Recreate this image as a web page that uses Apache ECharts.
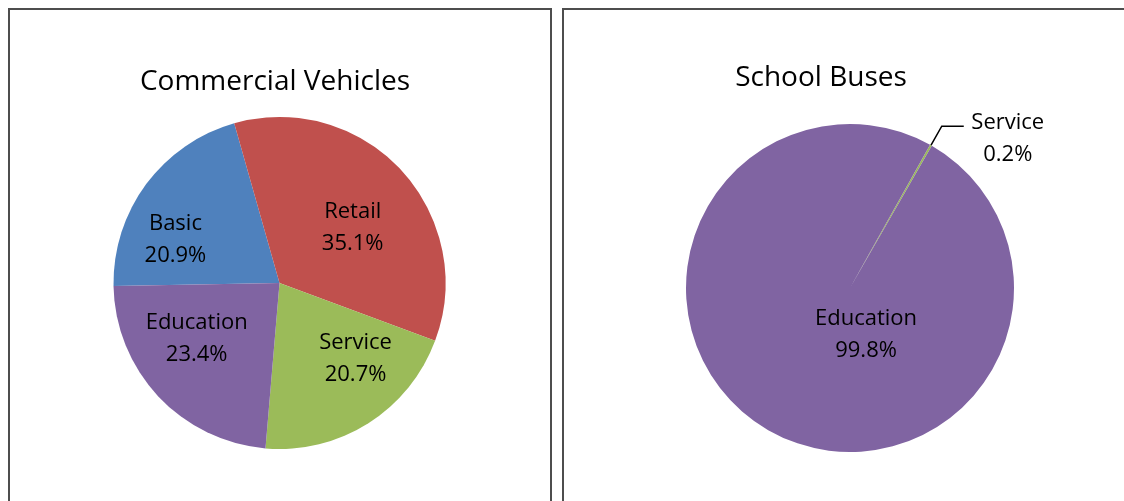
<!DOCTYPE html>
<html>
<head>
<meta charset="utf-8">
<script src="https://cdn.jsdelivr.net/npm/echarts@6/dist/echarts.min.js"></script>
<style>
  html, body { margin: 0; padding: 0; background: #fff; }
  #chart { width: 1124px; height: 501px; }
</style>
</head>
<body>
<div id="chart"></div>
<script>
  // data (percent shares)
  var vehicleTypes = ['Basic', 'Retail', 'Service', 'Education'];
  var vehicleShares = [20.9, 35.1, 20.7, 23.4];
  var busTypes = ['Service', 'Education'];
  var busShares = [0.2, 99.8];

  var palette = {
    Basic: '#4F81BD',
    Retail: '#C0504D',
    Service: '#9BBB59',
    Education: '#8064A2'
  };

  // nudges so the labels sit where Excel put them
  var vehicleLabelShift = [[-35, 8], [10, 3], [30, 3], [-20, -3]];
  var busLabelShift = [[0, 0], [58, -27]];

  var font = '"Open Sans", "Noto Sans", sans-serif';

  function buildData(names, values, shifts) {
    var out = [];
    for (var i = 0; i < names.length; i++) {
      out.push({
        name: names[i],
        value: values[i],
        itemStyle: { color: palette[names[i]] },
        label: { offset: shifts[i] }
      });
    }
    return out;
  }

  var busData = buildData(busTypes, busShares, busLabelShift);
  // the tiny slice gets an outside label with a leader line
  busData[0].label = {
    position: 'outside',
    formatter: '{t|{b}}\n{t|{c}%}',
    padding: [26, 0, 0, 0],
    rich: {
      t: { width: 78, align: 'center', fontSize: 22, lineHeight: 32, fontFamily: font, color: '#000' }
    }
  };
  busData[0].labelLine = {
    show: true,
    length: 22,
    length2: 22,
    lineStyle: { color: '#000', width: 1.5 }
  };

  var myChart = echarts.init(document.getElementById('chart'));
  var option = {
    animation: false,
    title: [
      {
        text: 'Commercial Vehicles',
        left: 270,
        top: 63,
        textAlign: 'center',
        textStyle: { fontFamily: font, fontSize: 28, fontWeight: 'normal', color: '#000' }
      },
      {
        text: 'School Buses',
        left: 816,
        top: 59,
        textAlign: 'center',
        textStyle: { fontFamily: font, fontSize: 28, fontWeight: 'normal', color: '#000' }
      }
    ],
    graphic: [
      {
        type: 'rect',
        shape: { x: 9, y: 9, width: 542, height: 600 },
        style: { fill: 'none', stroke: '#4d4d4d', lineWidth: 2 }
      },
      {
        type: 'rect',
        shape: { x: 563, y: 9, width: 600, height: 600 },
        style: { fill: 'none', stroke: '#4d4d4d', lineWidth: 2 }
      }
    ],
    series: [
      {
        type: 'pie',
        center: [279.5, 283],
        radius: 166,
        startAngle: 181,
        clockwise: true,
        silent: true,
        emphasis: { disabled: true },
        itemStyle: { borderWidth: 0 },
        label: {
          position: 'inside',
          formatter: '{b}\n{c}%',
          fontFamily: font,
          fontSize: 22,
          lineHeight: 32,
          color: '#000'
        },
        labelLine: { show: false },
        data: buildData(vehicleTypes, vehicleShares, vehicleLabelShift)
      },
      {
        type: 'pie',
        center: [850, 288],
        radius: 164,
        startAngle: 60.8,
        clockwise: true,
        silent: true,
        emphasis: { disabled: true },
        itemStyle: { borderWidth: 0 },
        label: {
          position: 'inside',
          formatter: '{b}\n{c}%',
          fontFamily: font,
          fontSize: 22,
          lineHeight: 32,
          color: '#000'
        },
        data: busData
      }
    ]
  };
  myChart.setOption(option);
</script>
</body>
</html>
